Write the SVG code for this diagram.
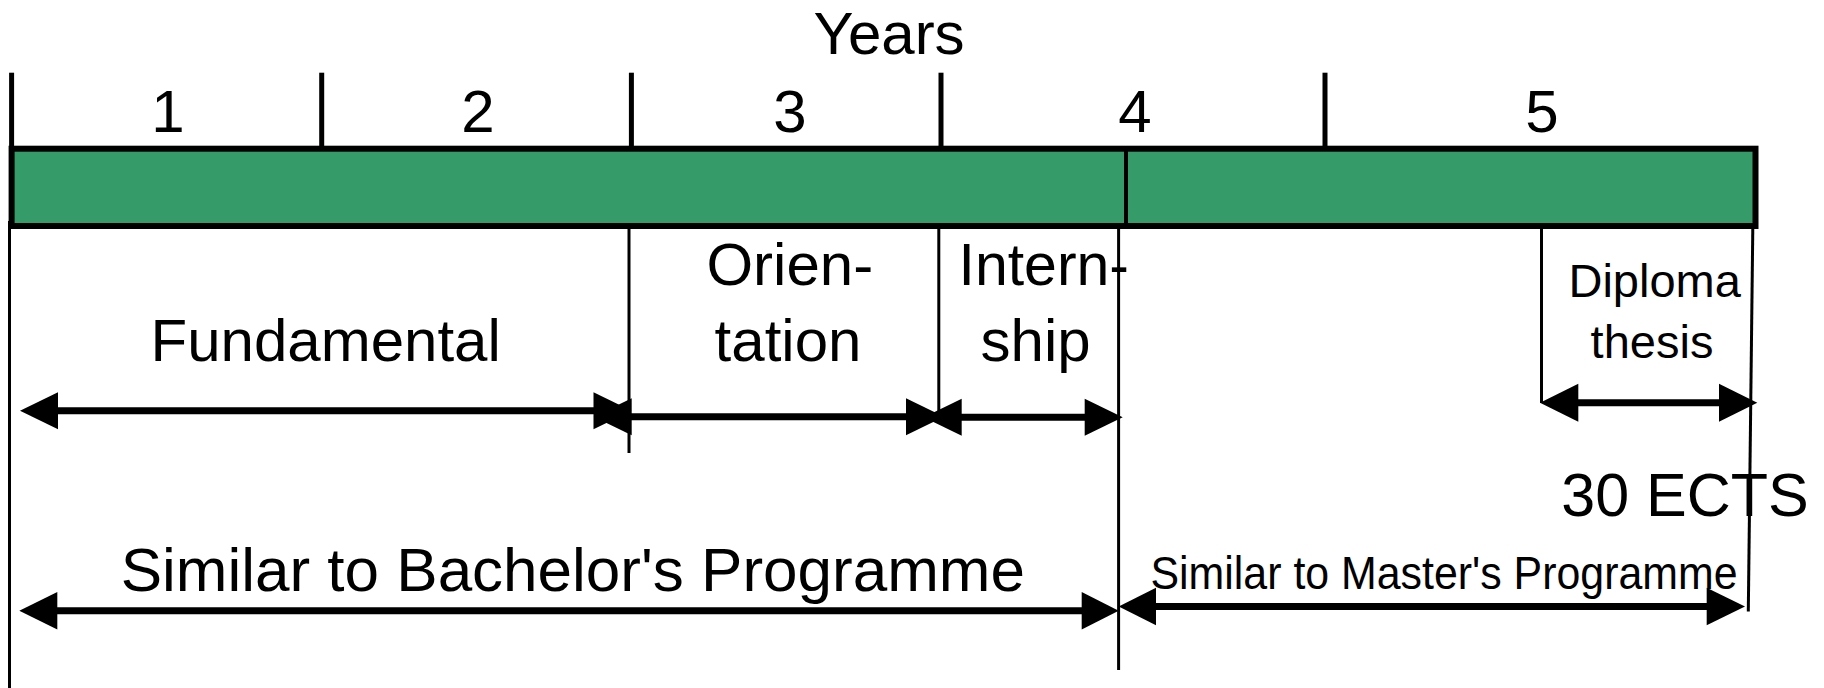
<svg xmlns="http://www.w3.org/2000/svg" width="1824" height="688" viewBox="0 0 1824 688">
<style>
text{font-family:"Liberation Sans",Arial,sans-serif;fill:#000}
.t60{font-size:60px;text-anchor:middle}
.tick{stroke:#000;stroke-width:5}
.vl{stroke:#000;stroke-width:3}
.shaft{stroke:#000;stroke-width:7}
.head{fill:#000}
</style>
<rect width="1824" height="688" fill="#fff"/>
<g id="timeline">
<rect x="11.6" y="148.7" width="1743.9" height="77.3" fill="#359b68" stroke="#000" stroke-width="6"/>
<line x1="1126" y1="148.7" x2="1126" y2="226" stroke="#000" stroke-width="4"/>
<line class="tick" x1="11.6" y1="72.7" x2="11.6" y2="151"/>
<line class="tick" x1="321.7" y1="72.7" x2="321.7" y2="151"/>
<line class="tick" x1="631.4" y1="72.7" x2="631.4" y2="151"/>
<line class="tick" x1="941" y1="72.7" x2="941" y2="151"/>
<line class="tick" x1="1325" y1="72.7" x2="1325" y2="151"/>
</g>
<g id="labels-years">
<text class="t60" x="889" y="53.5">Years</text>
<text class="t60" x="168" y="131.7">1</text>
<text class="t60" x="478" y="131.7">2</text>
<text class="t60" x="790" y="131.7">3</text>
<text class="t60" x="1135" y="131.7">4</text>
<text class="t60" x="1542" y="131.7">5</text>
</g>
<g id="dividers">
<line class="vl" x1="9.5" y1="221" x2="9.5" y2="688"/>
<line class="vl" x1="629" y1="229" x2="629" y2="453"/>
<line class="vl" x1="938.8" y1="228" x2="938.8" y2="412"/>
<line class="vl" x1="1118.6" y1="228" x2="1118.6" y2="670"/>
<line class="vl" x1="1541.5" y1="228" x2="1541.5" y2="403"/>
<line class="vl" x1="1752.8" y1="228" x2="1748.3" y2="611.5"/>
</g>
<g id="node-fundamental">
<text class="t60" x="325.7" y="360.6">Fundamental</text>
</g>
<g id="node-orientation">
<text class="t60" x="789.8" y="285" font-size="61">Orien-</text>
<text class="t60" x="788" y="360.6">tation</text>
</g>
<g id="node-internship">
<text x="958.5" y="285" font-size="59">Intern-</text>
<text class="t60" x="1035.6" y="360.6">ship</text>
</g>
<g id="node-diploma">
<text x="1654.7" y="296.7" font-size="47" text-anchor="middle">Diploma</text>
<text x="1652" y="358.3" font-size="47" text-anchor="middle">thesis</text>
<text x="1685" y="515.7" font-size="61" text-anchor="middle">30 ECTS</text>
</g>
<g id="node-bachelor">
<text x="572.8" y="590.7" font-size="62" text-anchor="middle">Similar to Bachelor's Programme</text>
</g>
<g id="node-master">
<text x="1150.5" y="589" font-size="45.6" textLength="587" lengthAdjust="spacingAndGlyphs">Similar to Master's Programme</text>
</g>
<g id="connectors">
<!-- Fundamental -->
<line class="shaft" x1="55" y1="410.7" x2="596" y2="410.7"/>
<polygon class="head" points="20,410.7 58,392.2 58,429.2"/>
<polygon class="head" points="631.5,410.7 593.5,392.2 593.5,429.2"/>
<!-- Orientation -->
<line class="shaft" x1="628" y1="416.7" x2="910" y2="416.7"/>
<polygon class="head" points="593.7,416.7 631.7,398.2 631.7,435.2"/>
<polygon class="head" points="944,416.7 906,398.2 906,435.2"/>
<!-- Internship -->
<line class="shaft" x1="958" y1="417.3" x2="1088" y2="417.3"/>
<polygon class="head" points="923.7,417.3 961.7,398.8 961.7,435.8"/>
<polygon class="head" points="1122.7,417.3 1084.7,398.8 1084.7,435.8"/>
<!-- Diploma thesis -->
<line class="shaft" x1="1575" y1="402.7" x2="1722" y2="402.7"/>
<polygon class="head" points="1540,402.7 1578.3,383.7 1578.3,421.7"/>
<polygon class="head" points="1757.3,402.7 1719,383.7 1719,421.7"/>
<!-- Bachelor -->
<line class="shaft" x1="55" y1="610.7" x2="1085" y2="610.7"/>
<polygon class="head" points="19.3,610.7 57.3,591.9 57.3,629.5"/>
<polygon class="head" points="1118.7,610.7 1081.7,591.9 1081.7,629.5"/>
<!-- Master -->
<line class="shaft" x1="1152" y1="606.5" x2="1710" y2="606.5"/>
<polygon class="head" points="1118.7,606.5 1156,587.7 1156,625.3"/>
<polygon class="head" points="1745,606.5 1706.7,587.7 1706.7,625.3"/>
</g>
</svg>
